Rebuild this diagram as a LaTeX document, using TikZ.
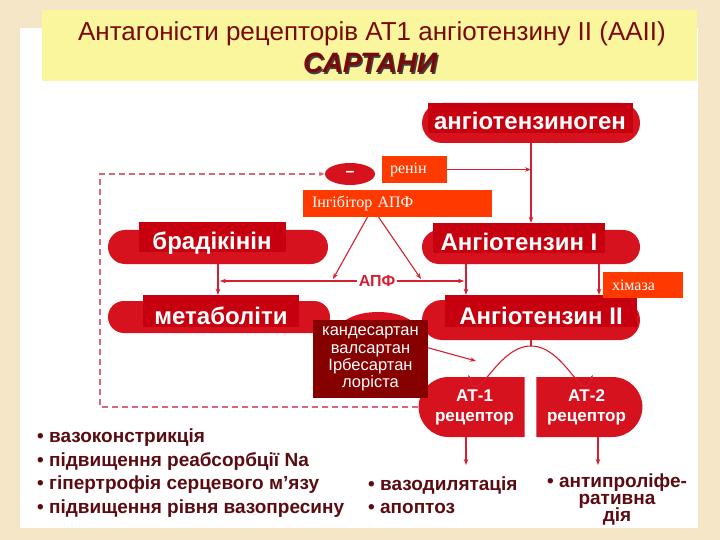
\documentclass[tikz,border=0pt]{standalone}
\usepackage{fontspec}
\setmainfont{Liberation Sans}
\newfontfamily\serifcyr{Liberation Serif}
\usepackage{xcolor}
\usetikzlibrary{shapes.misc,shapes.geometric,arrows.meta,positioning,calc}

\definecolor{parch}{HTML}{F5E6C8}
\definecolor{titleyellow}{HTML}{FAF69E}
\definecolor{titlered}{HTML}{7A0A0A}
\definecolor{pillred}{HTML}{D5121E}
\definecolor{tagred}{HTML}{C6000E}
\definecolor{boxorange}{HTML}{FF3A00}
\definecolor{darkbox}{HTML}{860000}
\definecolor{linered}{HTML}{D42030}
\definecolor{dashpink}{HTML}{D9687E}
\definecolor{listbrown}{HTML}{5A0C12}

\newcommand{\tightlines}{\lineskiplimit=-20pt\relax}

\begin{document}
\begin{tikzpicture}[x=1pt, y=-1pt,
    pill/.style={rounded rectangle, fill=pillred, inner sep=0pt},
    tagbox/.style={rectangle, fill=tagred, text=white, inner sep=0pt, text height=27pt, text depth=3pt, minimum height=30pt, font=\bfseries\fontsize{24}{26}\selectfont},
    hint/.style={rectangle, fill=boxorange, text=white, align=left, inner xsep=8pt, inner ysep=0pt, font=\serifcyr\fontsize{16}{18}\selectfont},
    receptor/.style={rounded rectangle, fill=pillred, minimum height=60pt, minimum width=106pt, inner sep=0pt, text=white, align=center, font=\bfseries\fontsize{17}{20}\selectfont},
    arr/.style={-{Stealth[length=6pt,width=4.5pt]}, draw=linered, line width=1.1pt},
    fb/.style={-{Stealth[length=6pt,width=4.5pt]}, draw=dashpink, line width=1.4pt, dash pattern=on 6pt off 4pt},
    bul/.style={anchor=base west, inner sep=0pt, text=listbrown, font=\bfseries\fontsize{19}{23}\selectfont}
]
    \useasboundingbox (0,0) rectangle (720,540);
    \fill[parch] (0,0) rectangle (720,540);
    \fill[white] (20,28) rectangle (698,528);

    % title
    \node[fill=titleyellow, minimum width=655pt, minimum height=71pt, inner sep=0pt, anchor=north west] (titlebar) at (42,10) {};
    \node[text=titlered, font=\fontsize{26}{28}\selectfont] (title) at (372,34) {Антагоністи рецепторів АТ1 ангіотензину ІІ (ААІІ)};
    \node[text=black!75, font=\bfseries\itshape\fontsize{28}{30}\selectfont] (sartshadow) at (371.5,64.5) {САРТАНИ};
    \node[text=titlered, font=\bfseries\itshape\fontsize{28}{30}\selectfont] (sartany) at (370,63) {САРТАНИ};

    % main chain
    \node[pill, minimum width=218pt, minimum height=40pt] (agen) at (531,123) {};
    \node[tagbox, minimum width=205pt] (agentag) at (530,118) {ангіотензиноген};
    \node[pill, minimum width=218pt, minimum height=34pt] (ang1) at (531,247) {};
    \node[tagbox, minimum width=172pt] (ang1tag) at (519,238) {Ангіотензин І};
    \node[pill, minimum width=218pt, minimum height=40pt] (ang2) at (531,320) {};
    \node[tagbox, minimum width=192pt, minimum height=32pt, text height=29pt] (ang2tag) at (541,311) {Ангіотензин ІІ};

    % kinin side
    \node[pill, minimum width=220pt, minimum height=34pt] (brad) at (218,247) {};
    \node[tagbox, minimum width=147pt] (bradtag) at (212,237) {брадікінін};
    \node[pill, minimum width=222pt, minimum height=32pt] (metab) at (219,317) {};
    \node[tagbox, minimum width=156pt, minimum height=32pt, text height=29pt] (metabtag) at (221,311) {метаболіти};

    % inhibitor blobs
    \node[ellipse, fill=pillred, minimum width=50pt, minimum height=22pt, inner sep=0pt, text=white, font=\bfseries\fontsize{16}{16}\selectfont] (minus1) at (350,174) {\raisebox{-3pt}{--}};
    \node[ellipse, fill=pillred, minimum width=80pt, minimum height=40pt, inner sep=0pt] (minus2) at (378,332) {};

    % enzymes
    \node[text=linered, inner sep=1.5pt, font=\bfseries\fontsize{16}{16}\selectfont] (apf) at (377,281) {АПФ};
    \coordinate (aceX) at (466,264);
    \coordinate (chyX) at (599,264);
    \coordinate (ihL) at (333,279);
    \coordinate (ihR) at (421,279);
    \coordinate (split) at (531,346);
    \coordinate (blockPt) at (476,361);
    \coordinate (fbCorner) at (100,407);
    \coordinate (effL) at (466,465);
    \coordinate (effR) at (598,465);

    \draw[arr] (agen.south) -- (agen.south |- ang1tag.north);
    \draw[arr] (brad.south) -- (brad.south |- metabtag.north);
    \draw[arr] (aceX) -- (aceX |- ang2tag.north);
    \draw[arr] (chyX) -- (chyX |- ang2tag.north);
    \draw[arr, shorten >=2pt] (apf.west) -- (apf.west -| brad.south);
    \draw[arr, shorten >=2pt] (apf.east) -- (apf.east -| aceX);

    % receptors
    \node[receptor, rounded rectangle right arc=none] (at1) at (474.5,407) {АТ-1\\рецептор};
    \node[receptor, rounded rectangle left arc=none] (at2) at (586.5,407) {АТ-2\\рецептор};

    \draw[draw=linered, line width=1.1pt] (ang2.south) -- (split);
    \draw[arr] (split) to[out=180, in=-75, looseness=1.3] ($(at1.north)+(-6,-2)$);
    \draw[arr] (split) to[out=0, in=-105, looseness=1.3] ($(at2.north)+(6,-2)$);
    \draw[arr] (effL |- at1.south) -- (effL);
    \draw[arr] (effR |- at2.south) -- (effR);

    % feedback
    \draw[fb] (at1.west) -- (fbCorner) |- (minus1.west);

    % labels
    \node[hint, text width=49pt, minimum height=27pt] (renin) at (414.5,169.5) {ренін};
    \draw[arr] (renin.east) -- (renin.east -| agen.south);
    \draw[arr] ($(330,217)+(37.5,0)$) -- (ihL);
    \draw[arr] ($(330,217)+(48.5,0)$) -- (ihR);
    \node[hint, inner xsep=9pt, text width=171pt, minimum height=27pt] (inhib) at (397.5,203.5) {Інгібітор АПФ};
    \node[hint, inner xsep=9pt, text width=62pt, minimum height=26pt] (chym) at (643,285) {хімаза};

    \node[fill=darkbox, text=white, align=center, minimum width=115pt, minimum height=78pt, inner sep=0pt, font=\fontsize{16.5}{17.3}\selectfont] (sartlist) at (370.5,359) {кандесартан\\валсартан\\Ірбесартан\\лоріста};
    \draw[arr] ($(sartlist.north east)+(0,28)$) -- (blockPt);

    % effects
    \node[bul] (e1) at (37,442) {• вазоконстрикція};
    \node[bul] (e2) at (37,466) {• підвищення реабсорбції Na};
    \node[bul] (e3) at (37,489) {• гіпертрофія серцевого м’язу};
    \node[bul] (e4) at (37,513) {• підвищення рівня вазопресину};
    \node[bul] (e5) at (368,490) {• вазодилятація};
    \node[bul] (e6) at (368,513) {• апоптоз};
    \node[bul, anchor=north, align=center, font=\bfseries\fontsize{19}{17}\selectfont\tightlines] (e7) at (617,474) {• антипроліфе-\\ративна\\дія};
\end{tikzpicture}
\end{document}
